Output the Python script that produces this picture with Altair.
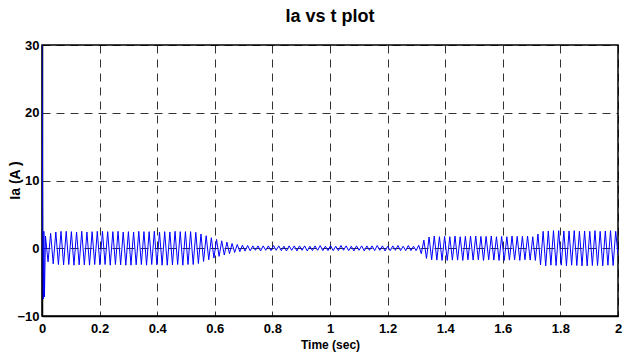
import altair as alt
import pandas as pd
import numpy as np

# ---- data ----
# initial transient (time in s, current in A)
transient_t = [0.0, 0.0025, 0.0045, 0.0065, 0.0085, 0.012]
transient_v = [30.0, 3.0, -7.5, 2.5, -7.2, 1.8]

# successive peak magnitudes of the oscillation (alternating sign), one every half cycle
peak_start = 0.021
peak_step = 0.009
seg_rise = [2.0, 2.2, 2.3, 2.4]
seg_high1 = [2.4, 2.5, 2.45, 2.5, 2.4, 2.45, 2.5, 2.4, 2.45, 2.5,
             2.45, 2.4, 2.5, 2.45, 2.4, 2.5, 2.45, 2.5, 2.4, 2.45,
             2.5, 2.45, 2.4, 2.5, 2.45, 2.4, 2.5, 2.45, 2.5, 2.4,
             2.45, 2.5, 2.4, 2.45, 2.5, 2.45, 2.4, 2.5, 2.45, 2.4,
             2.5, 2.45, 2.5, 2.4, 2.45, 2.5, 2.4, 2.45, 2.5, 2.45,
             2.4, 2.45]
seg_decay = [2.4, 2.35, 2.25, 2.1, 1.95, 1.85, 1.7, 1.55, 1.45, 1.3,
             1.2, 1.1, 1.0, 0.9, 0.8, 0.7, 0.62, 0.55, 0.5, 0.45,
             0.42, 0.4, 0.38]
seg_low = [0.35, 0.3, 0.35, 0.4, 0.35, 0.3, 0.35, 0.35, 0.4, 0.3,
           0.35, 0.35, 0.3, 0.4, 0.35, 0.3, 0.35, 0.4, 0.35, 0.3,
           0.35, 0.4, 0.3, 0.35, 0.35, 0.3, 0.4, 0.35, 0.3, 0.35,
           0.4, 0.35, 0.3, 0.35, 0.4, 0.3, 0.35, 0.35, 0.3, 0.4,
           0.35, 0.3, 0.35, 0.4, 0.35, 0.3, 0.35, 0.35, 0.4, 0.3,
           0.35, 0.4, 0.3, 0.35, 0.35, 0.3, 0.4, 0.35, 0.3, 0.35,
           0.4, 0.35, 0.3, 0.35]
seg_grow = [0.45, 0.8, 1.2, 1.5, 1.65]
seg_mid = [1.7, 1.8, 1.75, 1.7, 1.8, 1.75, 1.8, 1.7, 1.75, 1.8,
           1.75, 1.7, 1.8, 1.75, 1.7, 1.8, 1.75, 1.8, 1.7, 1.75,
           1.8, 1.75, 1.7, 1.8, 1.75, 1.7, 1.8, 1.75, 1.8, 1.7,
           1.75, 1.8, 1.7, 1.75, 1.8, 1.75, 1.7, 1.8, 1.75, 1.7,
           1.8]
seg_step = [2.1, 2.45]
seg_high2 = [2.5, 2.6, 2.55, 2.5, 2.6, 2.55, 2.6, 2.5, 2.55, 2.6,
             2.55, 2.5, 2.6, 2.55, 2.5, 2.6, 2.55, 2.6, 2.5, 2.55,
             2.6, 2.55, 2.5, 2.6, 2.55, 2.5, 2.6, 2.55, 2.5]
end_t = [2.0]
end_v = [-1.0]

x_ticks = [0, 0.2, 0.4, 0.6, 0.8, 1.0, 1.2, 1.4, 1.6, 1.8, 2.0]
y_ticks = [-10, 0, 10, 20, 30]

# ---- build the table ----
mags = seg_rise + seg_high1 + seg_decay + seg_low + seg_grow + seg_mid + seg_step + seg_high2
peak_t = [peak_start + peak_step * k for k in range(len(mags))]
peak_v = [(-m if k % 2 == 0 else m) for k, m in enumerate(mags)]
df = pd.DataFrame({
    "t": transient_t + peak_t + end_t,
    "ia": transient_v + peak_v + end_v,
})

FONT = "Liberation Sans, Arial, sans-serif"

chart = alt.Chart(df).mark_line(color="#0000ff", strokeWidth=1, clip=True).encode(
    x=alt.X("t:Q",
            scale=alt.Scale(domain=[0, 2], nice=False, zero=False),
            axis=alt.Axis(values=x_ticks, format="~g", title="Time (sec)",
                          labelFlush=False, labelOverlap=False, labelPadding=6,
                          titleY=23, titleBaseline="top")),
    y=alt.Y("ia:Q",
            scale=alt.Scale(domain=[-10, 30], nice=False, zero=False),
            axis=alt.Axis(values=y_ticks, title="Ia  (A )", titleFontSize=14,
                          labelFlush=False, labelOverlap=False, labelPadding=3,
                          titleX=-20, titleY=135)),
).properties(
    width=576,
    height=271,
    background="white",
    title=alt.TitleParams("Ia vs t plot", fontSize=18, font=FONT, fontWeight="bold",
                          anchor="middle", offset=13, color="black"),
    autosize=alt.AutoSizeParams(type="none"),
    padding={"left": 42, "top": 45, "right": 6, "bottom": 40},
).configure_view(
    stroke="black", strokeWidth=1.5
).configure_axis(
    grid=True, gridColor="#000000", gridOpacity=0.8, gridDash=[8, 6], gridWidth=1,
    domainColor="black", domainWidth=1.5, ticks=False,
    labelFont=FONT, labelFontSize=13, labelFontWeight="bold", labelColor="black",
    titleFont=FONT, titleFontSize=12, titleFontWeight="bold", titleColor="black",
)

chart.save("out.html", embed_options={"renderer": "svg", "actions": False})
